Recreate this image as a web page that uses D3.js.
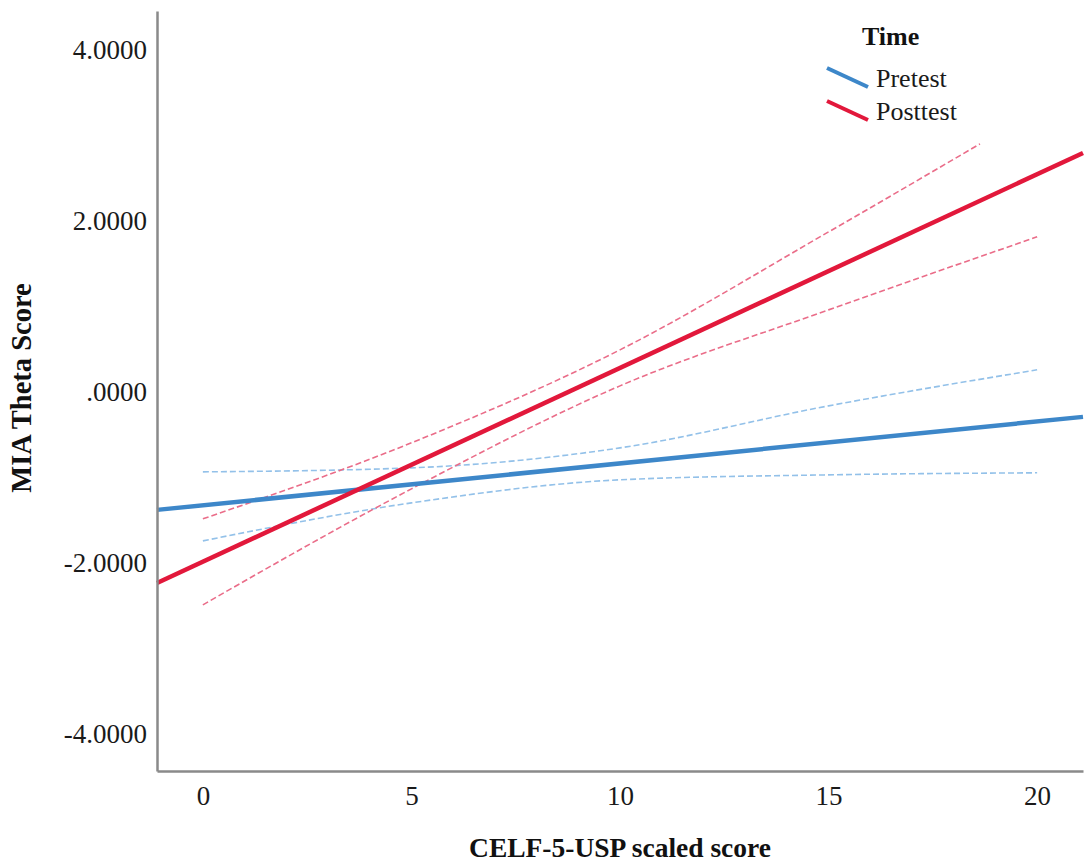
<!DOCTYPE html>
<html>
<head>
<meta charset="utf-8">
<script src="https://cdn.jsdelivr.net/npm/d3@7"></script>
<style>
  body { margin: 0; background: #fff; }
  svg { display: block; font-family: "Liberation Serif", "Times New Roman", serif; }
</style>
</head>
<body>
<script>
// ticks
var xTicks = [0, 5, 10, 15, 20];
var yTicks = [-4, -2, 0, 2, 4];
var yTickLabels = ["-4.0000", "-2.0000", ".0000", "2.0000", "4.0000"];

// legend
var series = ["Pretest", "Posttest"];

// fit lines (read at the plot edges)
var fitX = [-1.1, 21.1];
var pretestFit = [-1.382, -0.293];
var posttestFit = [-2.238, 2.798];

// confidence bands
var pretestCiX = [0, 5, 10, 15, 20];
var pretestUpper = [-0.937, -0.890, -0.656, -0.164, 0.258];
var pretestLower = [-1.745, -1.300, -1.030, -0.972, -0.948];
var posttestUpperX = [0, 5, 10, 15, 18.63];
var posttestUpper = [-1.487, -0.597, 0.492, 1.873, 2.904];
var posttestLowerX = [0, 5, 10, 15, 20];
var posttestLower = [-2.494, -1.136, 0.070, 0.960, 1.815];

var W = 1085, H = 864;
var margin = {top: 11, right: 2, bottom: 93, left: 157},
    width = W - margin.left - margin.right,
    height = H - margin.top - margin.bottom;

var colors = {Pretest: "#3d87c9", Posttest: "#e2183b"};
var ciColors = {Pretest: "#93c1e9", Posttest: "#ea6d89"};

var x = d3.scaleLinear().domain([-1.1, 21.1]).range([0, width]);
var y = d3.scaleLinear().domain([-4.44, 4.46]).range([height, 0]);

var svg = d3.select("body").append("svg")
    .attr("width", W)
    .attr("height", H);

var g = svg.append("g")
    .attr("transform", "translate(" + margin.left + "," + margin.top + ")");

function zip(xs, ys) {
  return xs.map(function(v, i) { return {x: v, y: ys[i]}; });
}

var line = d3.line()
    .x(function(d) { return x(d.x); })
    .y(function(d) { return y(d.y); });

var curve = d3.line()
    .curve(d3.curveMonotoneX)
    .x(function(d) { return x(d.x); })
    .y(function(d) { return y(d.y); });

var bands = [
  {s: "Pretest", pts: zip(pretestCiX, pretestUpper)},
  {s: "Pretest", pts: zip(pretestCiX, pretestLower)},
  {s: "Posttest", pts: zip(posttestUpperX, posttestUpper)},
  {s: "Posttest", pts: zip(posttestLowerX, posttestLower)}
];

g.selectAll(".ci")
  .data(bands)
  .enter().append("path")
    .attr("class", "ci")
    .attr("fill", "none")
    .attr("stroke", function(d) { return ciColors[d.s]; })
    .attr("stroke-width", 1.6)
    .attr("stroke-dasharray", "6,3")
    .attr("d", function(d) { return curve(d.pts); });

var fits = [
  {s: "Pretest", pts: zip(fitX, pretestFit)},
  {s: "Posttest", pts: zip(fitX, posttestFit)}
];

g.selectAll(".fit")
  .data(fits)
  .enter().append("path")
    .attr("class", "fit")
    .attr("fill", "none")
    .attr("stroke", function(d) { return colors[d.s]; })
    .attr("stroke-width", 4.5)
    .attr("d", function(d) { return line(d.pts); });

// axes
var xAxis = g.append("g")
    .attr("transform", "translate(0," + height + ")")
    .call(d3.axisBottom(x).tickValues(xTicks).tickSize(0).tickPadding(15));

var yAxis = g.append("g")
    .call(d3.axisLeft(y).tickValues(yTicks).tickSize(0).tickPadding(10)
      .tickFormat(function(d, i) { return yTickLabels[i]; }));

[xAxis, yAxis].forEach(function(a) {
  a.select(".domain").attr("stroke", "#8a8a8a").attr("stroke-width", 2.5);
  a.selectAll("text")
    .attr("font-family", "'Liberation Serif', 'Times New Roman', serif")
    .attr("font-size", 27)
    .attr("fill", "#1a1a1a");
});

// axis titles
svg.append("text")
    .attr("x", margin.left + width / 2)
    .attr("y", 857)
    .attr("text-anchor", "middle")
    .attr("font-weight", "bold")
    .attr("font-size", 27.5)
    .attr("fill", "#111")
    .text("CELF-5-USP scaled score");

svg.append("text")
    .attr("transform", "translate(31,388) rotate(-90)")
    .attr("text-anchor", "middle")
    .attr("font-weight", "bold")
    .attr("font-size", 28.5)
    .attr("fill", "#111")
    .text("MIA Theta Score");

// legend
var legend = svg.append("g");
legend.append("text")
    .attr("x", 862)
    .attr("y", 45)
    .attr("font-weight", "bold")
    .attr("font-size", 26)
    .attr("fill", "#111")
    .text("Time");

var item = legend.selectAll(".item")
  .data(series)
  .enter().append("g")
    .attr("class", "item")
    .attr("transform", function(d, i) { return "translate(0," + (i * 33) + ")"; });

item.append("line")
    .attr("x1", 827).attr("y1", 68)
    .attr("x2", 868).attr("y2", 87)
    .attr("stroke", function(d) { return colors[d]; })
    .attr("stroke-width", 4);

item.append("text")
    .attr("x", 876)
    .attr("y", 87)
    .attr("font-size", 26)
    .attr("fill", "#1a1a1a")
    .text(function(d) { return d; });
</script>
</body>
</html>
